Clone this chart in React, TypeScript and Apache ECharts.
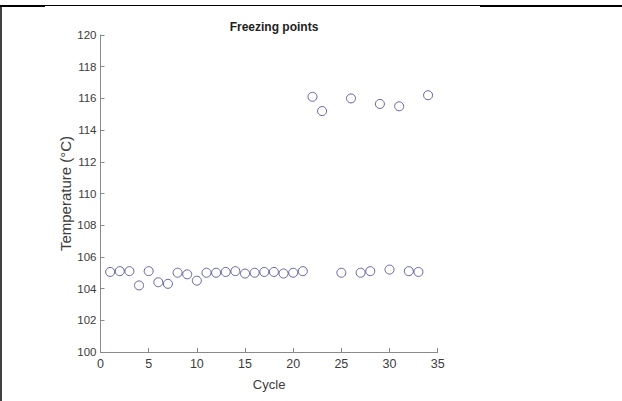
import React, { useEffect, useRef } from "react";
import * as echarts from "echarts";

const cycles = [1, 2, 3, 4, 5, 6, 7, 8, 9, 10, 11, 12, 13, 14, 15, 16, 17, 18, 19, 20, 21, 22, 23, 25, 26, 27, 28, 29, 30, 31, 32, 33, 34];
const temps = [105.05, 105.1, 105.1, 104.2, 105.1, 104.4, 104.3, 105.0, 104.9, 104.5, 105.0, 105.0, 105.05, 105.1, 104.95, 105.0, 105.05, 105.05, 104.95, 105.0, 105.1, 116.1, 115.2, 105.0, 116.0, 105.0, 105.1, 115.65, 105.2, 115.5, 105.1, 105.05, 116.2];
const xTicks = [0, 5, 10, 15, 20, 25, 30, 35];
const yTicks = [100, 102, 104, 106, 108, 110, 112, 114, 116, 118, 120];

export default function App() {
  const ref = useRef<HTMLDivElement>(null);
  useEffect(() => {
    if (!ref.current) return;
    const chart = echarts.init(ref.current, null, { renderer: "svg" });
    const axisColor = "#8a8a8a";
    const labelColor = "#3c3c3c";
    chart.setOption({
      animation: false,
      backgroundColor: "#ffffff",
      textStyle: { fontFamily: "Liberation Sans" },
      title: {
        text: "Freezing points",
        left: 269,
        textAlign: "center",
        top: 16,
        textStyle: { fontSize: 12, fontWeight: "bold", color: "#222", fontFamily: "Liberation Sans" },
      },
      grid: { left: 100.5, right: 184.3, top: 35, bottom: 49, containLabel: false },
      xAxis: {
        type: "value",
        min: xTicks[0],
        max: xTicks[xTicks.length - 1],
        interval: 5,
        name: "Cycle",
        nameLocation: "middle",
        nameGap: 26,
        nameMoveOverlap: false,
        nameTextStyle: { fontSize: 13, color: labelColor },
        axisLine: { show: true, lineStyle: { color: axisColor, width: 1 } },
        axisTick: { show: true, inside: true, length: 4, lineStyle: { color: axisColor } },
        axisLabel: { fontSize: 12.5, color: labelColor, margin: 5 },
        splitLine: { show: false },
      },
      yAxis: {
        type: "value",
        min: yTicks[0],
        max: yTicks[yTicks.length - 1],
        interval: 2,
        name: "Temperature (°C)",
        nameLocation: "middle",
        nameGap: 28,
        nameMoveOverlap: false,
        nameRotate: 90,
        nameTextStyle: { fontSize: 15, color: labelColor },
        axisLine: { show: true, lineStyle: { color: axisColor, width: 1 } },
        axisTick: { show: true, inside: true, length: 4, lineStyle: { color: axisColor } },
        axisLabel: { fontSize: 11.5, color: labelColor, margin: 4 },
        splitLine: { show: false },
      },
      series: [
        {
          type: "scatter",
          data: cycles.map((c, i) => [c, temps[i]]),
          symbol: "circle",
          symbolSize: 9,
          itemStyle: { color: "transparent", borderColor: "#40408e", borderWidth: 1 },
        },
      ],
      graphic: [
        { type: "line", shape: { x1: 0, y1: 5.5, x2: 622, y2: 5.5 }, style: { stroke: "#000", lineWidth: 1 } },
        { type: "rect", shape: { x: 0, y: 5, width: 45, height: 2 }, style: { fill: "#000" } },
        { type: "rect", shape: { x: 480, y: 5, width: 142, height: 2 }, style: { fill: "#000" } },
        { type: "line", shape: { x1: 1, y1: 5, x2: 1, y2: 401 }, style: { stroke: "#000", lineWidth: 1.5 } },
      ],
    });
    return () => chart.dispose();
  }, []);
  return <div ref={ref} style={{ position: "absolute", left: 0, top: 0, width: 622, height: 401 }} />;
}
